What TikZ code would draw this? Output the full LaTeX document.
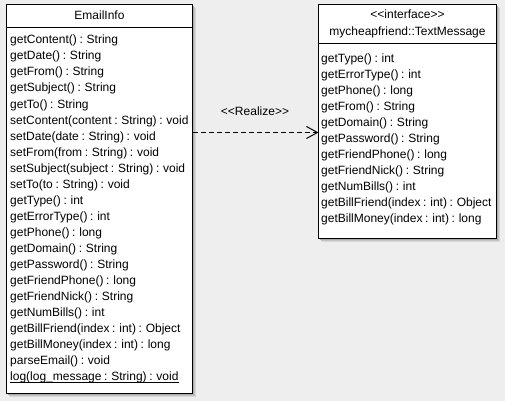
\documentclass[tikz,border=0pt]{standalone}
\usepackage{fontspec}
\setmainfont{Liberation Sans}[WordSpace=0.8]
\usetikzlibrary{arrows.meta,calc}

\definecolor{canvas}{HTML}{EEEEEE}
\definecolor{shadeFar}{HTML}{D8D8D8}
\definecolor{shadeMid}{HTML}{C4C4C4}
\definecolor{shadeNear}{HTML}{ABABAB}

% guillemet-style stereotype brackets kept as two separate angle signs
\newcommand{\lstereo}{<\kern0pt<}
\newcommand{\rstereo}{>\kern0pt>}

\tikzset{
  umlbox/.style={draw=black, line width=1pt, fill=white, anchor=north west,
                 inner sep=0pt, outer sep=0pt},
  umlfont/.style={font=\fontsize{12}{14}\selectfont},
  member/.style={umlfont, anchor=base west, inner sep=0pt},
  boxtitle/.style={umlfont, anchor=base, inner sep=0pt},
  divider/.style={line width=1pt},
  realize/.style={line width=1pt, dash pattern=on 5pt off 3pt,
                  -{Straight Barb[length=11pt,width=12pt,line width=1pt]}},
}

% soft drop shadow behind a named box
\newcommand{\boxshadow}[1]{%
  \fill[shadeFar]  ($(#1.north west)+(3.5,3.5)$) rectangle ($(#1.south east)+(3.5,3.5)$);
  \fill[shadeMid]  ($(#1.north west)+(2.5,2.5)$) rectangle ($(#1.south east)+(2.5,2.5)$);
  \fill[shadeNear] ($(#1.north west)+(1.5,1.5)$) rectangle ($(#1.south east)+(1.5,1.5)$);
}

\begin{document}
\begin{tikzpicture}[x=1pt, y=-1pt]
  \fill[canvas] (0,0) rectangle (505,401);
  \useasboundingbox (0,0) rectangle (505,401);

  % class EmailInfo
  \path (6.5,4.5) coordinate (emailcorner);
  \node[umlbox, minimum width=186pt, minimum height=389pt, draw=none, fill=none]
        (email) at (emailcorner) {};
  \boxshadow{email}
  \node[umlbox, minimum width=186pt, minimum height=389pt] (emailbox) at (emailcorner) {};
  \node[boxtitle] (emailtitle) at (99.5,20) {EmailInfo};
  \draw[divider] (emailbox.west |- 0,27.5) coordinate (ediva) -- (emailbox.east |- 0,27.5) coordinate (edivb);

  \foreach \txt [count=\i from 0] in {
      getContent() : String,
      getDate() : String,
      getFrom() : String,
      getSubject() : String,
      getTo() : String,
      setContent(content : String) : void,
      setDate(date : String) : void,
      setFrom(from : String) : void,
      setSubject(subject : String) : void,
      setTo(to : String) : void,
      getType() : int,
      getErrorType() : int,
      getPhone() : long,
      getDomain() : String,
      getPassword() : String,
      getFriendPhone() : long,
      getFriendNick() : String,
      getNumBills() : int,
      getBillFriend(index : int) : Object,
      getBillMoney(index : int) : long,
      parseEmail() : void,
      log(log\_message : String) : void}
    \node[member] (em\i) at (10, 44+16*\i) {\txt};
  \draw[line width=1pt] ([yshift=-2pt]em21.base west) -- ([yshift=-2pt]em21.base east);

  % interface TextMessage
  \path (318.5,4.5) coordinate (textcorner);
  \node[umlbox, minimum width=178pt, minimum height=234pt, draw=none, fill=none]
        (text) at (textcorner) {};
  \boxshadow{text}
  \node[umlbox, minimum width=178pt, minimum height=234pt] (textbox) at (textcorner) {};
  \node[boxtitle] (stereo) at (407.5,19) {\lstereo interface\rstereo};
  \node[boxtitle] (texttitle) at (407.5,36) {mycheapfriend::TextMessage};
  \draw[divider] (textbox.west |- 0,43.5) coordinate (tdiva) -- (textbox.east |- 0,43.5) coordinate (tdivb);

  \foreach \txt [count=\i from 0] in {
      getType() : int,
      getErrorType() : int,
      getPhone() : long,
      getFrom() : String,
      getDomain() : String,
      getPassword() : String,
      getFriendPhone() : long,
      getFriendNick() : String,
      getNumBills() : int,
      getBillFriend(index : int) : Object,
      getBillMoney(index : int) : long}
    \node[member] (tm\i) at (321, 62.5+16*\i) {\txt};

  % realization
  \coordinate (realizey) at (0,132.5);
  \draw[realize] (emailbox.east |- realizey) -- (textbox.west |- realizey);
  \node[boxtitle] (realizelabel) at (255,115) {\lstereo Realize\rstereo};
\end{tikzpicture}
\end{document}
